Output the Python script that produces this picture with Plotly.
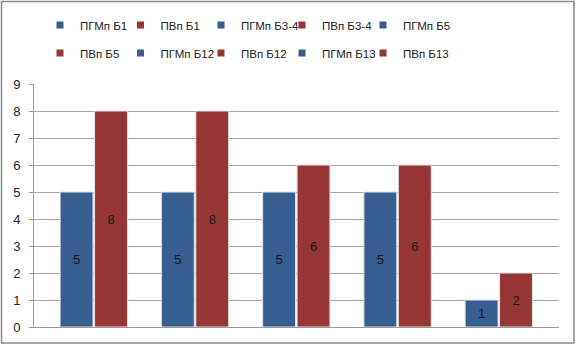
import plotly.graph_objects as go

groups = [0, 1, 2, 3, 4]
pgm_names = ["ПГМп Б1", "ПГМп Б3-4", "ПГМп Б5", "ПГМп Б12", "ПГМп Б13"]
pv_names = ["ПВп Б1", "ПВп Б3-4", "ПВп Б5", "ПВп Б12", "ПВп Б13"]
pgm_values = [5, 5, 5, 5, 1]
pv_values = [8, 8, 6, 6, 2]
y_ticks = [0, 1, 2, 3, 4, 5, 6, 7, 8, 9]

BLUE = "#375E90"
RED = "#963735"
FONT = "Liberation Sans"

fig = go.Figure()

# bars
for i, g in enumerate(groups):
    fig.add_trace(go.Bar(
        x=[g], y=[pgm_values[i]], name=pgm_names[i], showlegend=False,
        marker=dict(color=BLUE, line=dict(color="#e4e4e4", width=1)),
        width=0.325, offset=-0.335,
        text=[str(pgm_values[i])], textposition="inside", insidetextanchor="middle",
        textfont=dict(color="#1a1a1a", size=13, family=FONT), textangle=0,
    ))
    fig.add_trace(go.Bar(
        x=[g], y=[pv_values[i]], name=pv_names[i], showlegend=False,
        marker=dict(color=RED, line=dict(color="#e4e4e4", width=1)),
        width=0.325, offset=0.005,
        text=[str(pv_values[i])], textposition="inside", insidetextanchor="middle",
        textfont=dict(color="#1a1a1a", size=13, family=FONT), textangle=0,
    ))

# legend entries (order as in reference): 5 per row, each in its own legend box
entries = []
for i in range(len(groups)):
    entries.append((pgm_names[i], BLUE))
    entries.append((pv_names[i], RED))

col_text_px = [77, 157.5, 238, 319, 400]
row_y_px = [25, 53]
PLOT_L, PLOT_W, PLOT_B, PLOT_H = 34, 525, 327, 243

legend_layouts = {}
for k, (nm, col) in enumerate(entries):
    key = "legend" if k == 0 else f"legend{k + 1}"
    fig.add_trace(go.Scatter(
        x=[None], y=[None], mode="markers", name=nm, legend=key,
        marker=dict(symbol="square", size=7, color=col),
    ))
    r, c = divmod(k, 5)
    legend_layouts[key] = dict(
        orientation="h", xanchor="left", yanchor="middle",
        x=(col_text_px[c] + 3 - 40 - PLOT_L) / PLOT_W,
        y=(PLOT_B - row_y_px[r]) / PLOT_H,
        itemwidth=30,
        font=dict(family=FONT, size=11.5, color="#222222"),
        bgcolor="rgba(0,0,0,0)", borderwidth=0,
    )

fig.update_layout(
    width=577, height=348,
    margin=dict(l=PLOT_L, r=577 - PLOT_L - PLOT_W, t=PLOT_B - PLOT_H,
                b=348 - PLOT_B, autoexpand=False),
    paper_bgcolor="white", plot_bgcolor="white",
    barmode="overlay",
    font=dict(family=FONT, size=12, color="#222222"),
    showlegend=True,
    xaxis=dict(
        range=[-0.593, 4.592], showticklabels=False, showgrid=False,
        zeroline=False, showline=True, linecolor="#9a9a9a", linewidth=1,
        ticks="",
    ),
    yaxis=dict(
        range=[0, 9], tickvals=y_ticks, showgrid=True, gridcolor="#a6a6a6",
        gridwidth=1, zeroline=False, showline=True, linecolor="#9a9a9a",
        linewidth=1, ticks="outside", ticklen=4, tickcolor="#9a9a9a",
        ticklabelstandoff=6,
        tickfont=dict(family=FONT, size=13, color="#222222"),
    ),
    shapes=[dict(
        type="rect", xref="paper", yref="paper",
        x0=(1.5 - PLOT_L) / PLOT_W, x1=(574 - PLOT_L) / PLOT_W,
        y0=(PLOT_B - 343) / PLOT_H, y1=(PLOT_B - 1.5) / PLOT_H,
        line=dict(color="#8c8c8c", width=1.5), fillcolor="rgba(0,0,0,0)",
        layer="below",
    )],
)
fig.update_layout(**legend_layouts)

fig.write_html("out.html", config={"displayModeBar": False},
               post_script="document.body.style.margin='0';")
